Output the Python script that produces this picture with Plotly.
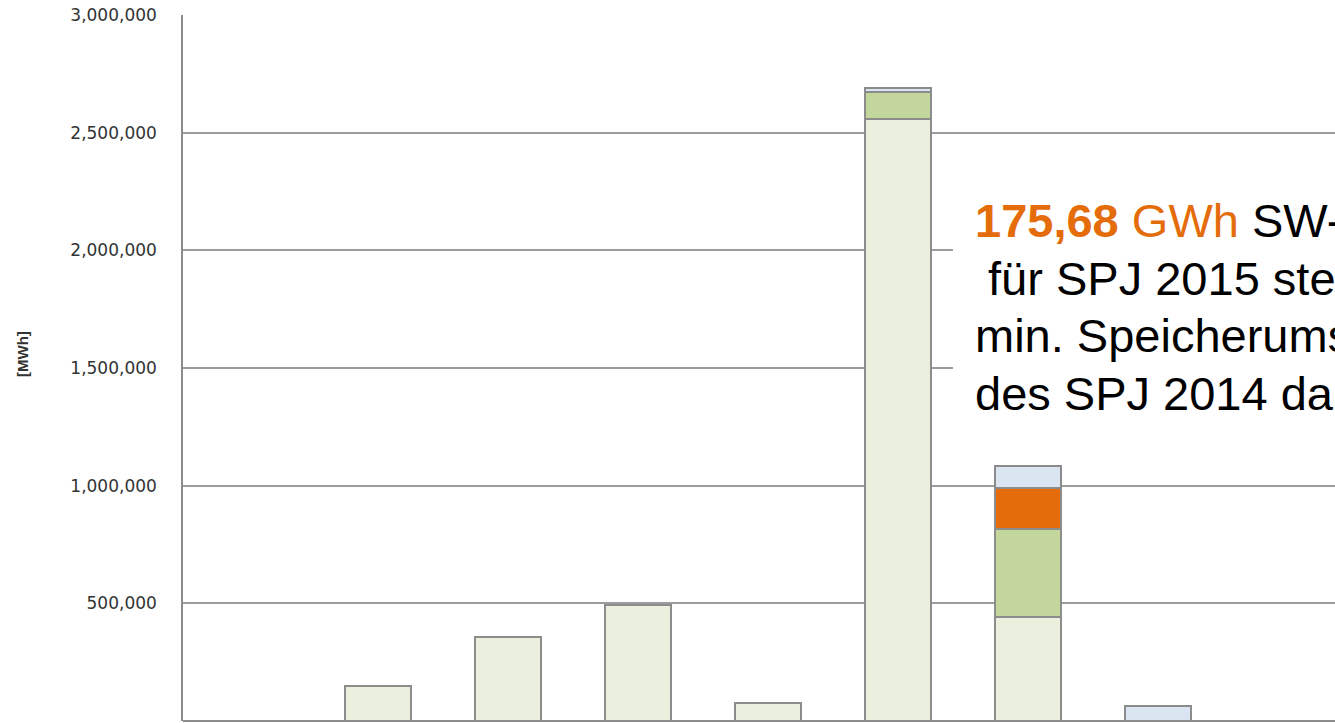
import plotly.graph_objects as go

# Category slots along the x axis (labels are below the visible area)
categories = ["1", "2", "3", "4", "5", "6", "7", "8", "9"]

# Stacked energy amounts per category [MWh]
base_mwh = [0, 150000, 357000, 493000, 76500, 2556800, 444000, 0, 0]
green_mwh = [0, 0, 0, 0, 0, 114700, 372000, 0, 0]
orange_mwh = [0, 0, 0, 0, 0, 0, 175680, 0, 0]
blue_mwh = [0, 0, 0, 0, 0, 17000, 92000, 65000, 0]

y_ticks = [0, 500000, 1000000, 1500000, 2000000, 2500000, 3000000]
y_tick_text = ["-", "500,000", "1,000,000", "1,500,000", "2,000,000", "2,500,000", "3,000,000"]

# Note text, one entry per line
note_lines = [
    "<span style='color:#E46C0A'><b>175,68</b> GWh</span> SW-Mengen",
    "\u00a0für SPJ 2015 stellen den",
    "min. Speicherumsatz",
    "des SPJ 2014 dar",
]

series = [
    ("Basis", base_mwh, "#EBF0DE"),
    ("Grün", green_mwh, "#C3D69B"),
    ("SW-Menge", orange_mwh, "#E46C0A"),
    ("Rest", blue_mwh, "#DBE5F1"),
]

x_pos = list(range(len(categories)))

fig = go.Figure()
for name, vals, color in series:
    fig.add_trace(go.Bar(
        x=x_pos,
        y=vals,
        name=name,
        marker=dict(color=color, line=dict(color="#8c8c8c", width=2)),
        width=0.515,
        hoverinfo="skip",
    ))

PLOT_LEFT, PLOT_W = 183, 1152
PLOT_TOP, PLOT_BOTTOM, PLOT_H = 15, 721, 706


def px_x(px):
    return (px - PLOT_LEFT) / PLOT_W


def px_y(px):
    return (PLOT_BOTTOM - px) / PLOT_H


fig.update_layout(
    width=1335,
    height=723,
    margin=dict(l=PLOT_LEFT, r=0, t=PLOT_TOP, b=2),
    barmode="stack",
    showlegend=False,
    plot_bgcolor="white",
    paper_bgcolor="white",
    font=dict(family="DejaVu Sans", color="#333333"),
)

fig.update_xaxes(
    range=[-0.5, PLOT_W / 130 - 0.5],
    tickvals=x_pos,
    ticktext=categories,
    showticklabels=False,
    showgrid=False,
    zeroline=False,
    showline=False,
)

fig.update_yaxes(
    range=[0, 3000000],
    tickvals=y_ticks,
    ticktext=y_tick_text,
    tickfont=dict(family="DejaVu Sans", size=17, color="#333333"),
    ticks="",
    ticklabelstandoff=21,
    showgrid=True,
    gridcolor="#9c9c9c",
    gridwidth=1.5,
    zeroline=True,
    zerolinecolor="#8c8c8c",
    zerolinewidth=2,
    showline=True,
    linecolor="#8c8c8c",
    linewidth=1.5,
)

# Axis unit label
fig.add_annotation(
    xref="paper", yref="paper",
    x=px_x(22), y=px_y(354),
    text="<b>[MWh]</b>",
    textangle=-90,
    showarrow=False,
    xanchor="center", yanchor="middle",
    font=dict(family="Liberation Sans", size=15, color="#333333"),
)

# White text box behind the note
fig.add_shape(
    type="rect",
    xref="paper", yref="paper",
    x0=px_x(953), x1=1.0,
    y0=px_y(432), y1=px_y(182),
    fillcolor="white",
    line=dict(width=0),
    layer="above",
)

# Explanatory note, laid out line by line
first_center_px = 220.5
line_step_px = 57.5
for i, line in enumerate(note_lines):
    center_px = first_center_px + i * line_step_px
    fig.add_annotation(
        xref="paper", yref="paper",
        x=px_x(973), y=px_y(center_px),
        text=line,
        showarrow=False,
        align="left",
        xanchor="left", yanchor="middle",
        font=dict(family="Liberation Sans", size=47, color="#000000"),
    )

fig.write_html("out.html")
